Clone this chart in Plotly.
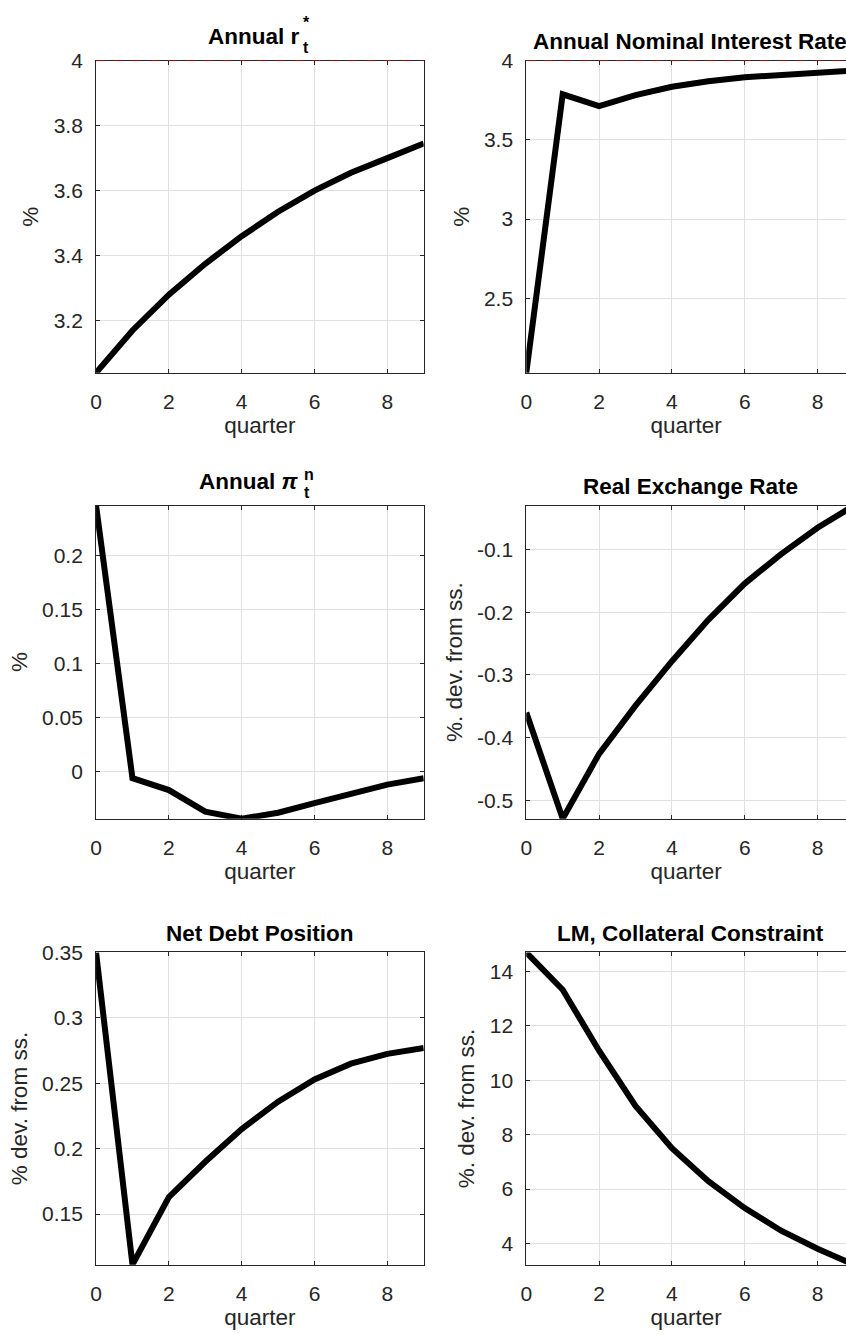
import plotly.graph_objects as go

# ---------------- data ----------------
quarters = [0, 1, 2, 3, 4, 5, 6, 7, 8, 9]
r_star = [3.04, 3.17, 3.28, 3.375, 3.46, 3.535, 3.60, 3.655, 3.70, 3.745]
nominal_rate = [2.03, 3.787, 3.713, 3.782, 3.835, 3.87, 3.895, 3.912, 3.925, 3.937]
inflation = [0.2465, -0.006, -0.017, -0.037, -0.0435, -0.038, -0.029, -0.020, -0.012, -0.006]
real_exchange = [-0.36, -0.5295, -0.426, -0.349, -0.278, -0.212, -0.154, -0.107, -0.065, -0.0294]
net_debt = [0.35, 0.1114, 0.163, 0.190, 0.215, 0.236, 0.253, 0.265, 0.2725, 0.277]
lm_collateral = [14.69, 13.32, 11.08, 9.05, 7.50, 6.29, 5.30, 4.47, 3.81, 3.224]
steady_state_rate = 4.0

titles = ["Annual Nominal Interest Rate", "Real Exchange Rate",
          "Net Debt Position", "LM, Collateral Constraint"]
ylabels = ["%", "%", "%", "%. dev. from ss.", "% dev. from ss.", "%. dev. from ss."]
xlabel = "quarter"
xtick_vals = [0, 2, 4, 6, 8]
ytick_vals = [
    [3.2, 3.4, 3.6, 3.8, 4],
    [2.5, 3, 3.5, 4],
    [0, 0.05, 0.1, 0.15, 0.2],
    [-0.5, -0.4, -0.3, -0.2, -0.1],
    [0.15, 0.2, 0.25, 0.3, 0.35],
    [4, 6, 8, 10, 12, 14],
]
ytick_text = [
    ["3.2", "3.4", "3.6", "3.8", "4"],
    ["2.5", "3", "3.5", "4"],
    ["0", "0.05", "0.1", "0.15", "0.2"],
    ["-0.5", "-0.4", "-0.3", "-0.2", "-0.1"],
    ["0.15", "0.2", "0.25", "0.3", "0.35"],
    ["4", "6", "8", "10", "12", "14"],
]

series = [r_star, nominal_rate, inflation, real_exchange, net_debt, lm_collateral]
has_ss = [True, True, False, False, False, False]

# ---------------- layout geometry (pixels) ----------------
W, H = 846, 1335
col_px = [(90.7, 420.7), (524.0, 854.0)]
row_px = [(49, 364), (498, 814), (949, 1264)]

FONT = "Liberation Sans, Arial, Helvetica, sans-serif"
TICK_COLOR = "#262626"
GRID = "#e0e0e0"


def px_x(x):
    return x / W


def px_y(y):
    return 1 - y / H


fig = go.Figure()
layout = dict(
    width=W, height=H,
    margin=dict(l=0, r=0, t=0, b=0),
    paper_bgcolor="white", plot_bgcolor="white",
    showlegend=False,
    font=dict(family=FONT, color=TICK_COLOR),
)
annotations = []

for i, ys in enumerate(series):
    r, c = divmod(i, 2)
    k = i + 1
    xa = "x" if k == 1 else f"x{k}"
    ya = "y" if k == 1 else f"y{k}"
    x0, x1 = col_px[c]
    top, bot = row_px[r]
    dom_x = [px_x(x0), min(1.0, px_x(x1))]
    dom_y = [px_y(bot), px_y(top)]
    span = quarters[-1] - quarters[0]
    xmax = quarters[0] + span * (min(x1, W) - x0) / (x1 - x0)

    vals = list(ys) + ([steady_state_rate] if has_ss[i] else [])
    yr = [min(vals), max(vals)]

    if has_ss[i]:
        fig.add_trace(go.Scatter(
            x=quarters, y=[steady_state_rate] * len(quarters), mode="lines",
            line=dict(color="#ff0000", width=1, dash="dash"),
            xaxis=xa, yaxis=ya, hoverinfo="skip"))
    fig.add_trace(go.Scatter(
        x=quarters, y=ys, mode="lines",
        line=dict(color="black", width=6),
        xaxis=xa, yaxis=ya))

    axis_common = dict(
        showline=True, linecolor=TICK_COLOR, linewidth=1,
        ticks="inside", ticklen=4, tickcolor=TICK_COLOR, tickwidth=1,
        showgrid=True, gridcolor=GRID, gridwidth=1,
        zeroline=False, layer="below traces",
        tickfont=dict(family=FONT, size=21, color=TICK_COLOR),
    )
    layout["xaxis" if k == 1 else f"xaxis{k}"] = dict(
        axis_common, domain=dom_x, range=[quarters[0], xmax],
        anchor=ya, mirror="ticks", tickvals=xtick_vals,
        ticktext=[str(v) for v in xtick_vals], ticklabelstandoff=10,
        title=dict(text=xlabel, standoff=5,
                   font=dict(family=FONT, size=22.5, color=TICK_COLOR)),
    )
    layout["yaxis" if k == 1 else f"yaxis{k}"] = dict(
        axis_common, domain=dom_y, range=yr, anchor=xa,
        mirror="ticks" if c == 0 else False,
        tickvals=ytick_vals[i], ticktext=ytick_text[i], ticklabelstandoff=8,
        title=dict(text=ylabels[i], standoff=8,
                   font=dict(family=FONT, size=22.5, color=TICK_COLOR)),
    )

# ---------------- titles ----------------
def ann(text, xpx, ypx, size, xanchor="center"):
    annotations.append(dict(
        text=text, x=px_x(xpx), y=px_y(ypx), xref="paper", yref="paper",
        xanchor=xanchor, yanchor="middle", showarrow=False,
        font=dict(family=FONT, size=size, color="black")))

plain = [(1, titles[0]), (3, titles[1]), (4, titles[2]), (5, titles[3])]
for i, t in plain:
    r, c = divmod(i, 2)
    cx = (col_px[c][0] + col_px[c][1]) / 2
    ann(f"<b>{t}</b>", cx, row_px[r][0] - 19, 22.5)

# Annual r*_t  (row 0, col 0)
B = row_px[0][0] - 16
ann("<b>Annual r</b>", 296.8, B - 8, 22.5, xanchor="right")
ann("<b>*</b>", 297.5, B - 22, 16, xanchor="left")
ann("<b>t</b>", 297.5, B + 3, 16, xanchor="left")

# Annual pi^n_t  (row 1, col 0)
B = row_px[1][0] - 16
ann("<b>Annual <i>π</i></b>", 297.0, B - 8, 22.5, xanchor="right")
ann("<b>n</b>", 298.5, B - 15, 16, xanchor="left")
ann("<b>t</b>", 298.5, B + 3, 16, xanchor="left")

layout["annotations"] = annotations
fig.update_layout(**layout)
fig.write_html("out.html")
